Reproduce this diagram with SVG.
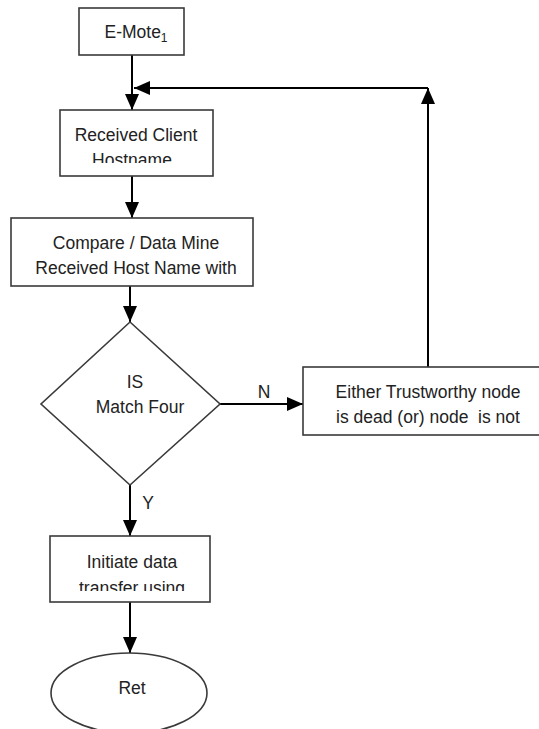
<svg xmlns="http://www.w3.org/2000/svg" width="539" height="729" viewBox="0 0 539 729">
<style>
.box{fill:#fff;stroke:#3a3a3a;stroke-width:1.6}
.t{font-family:"Liberation Sans",Arial,sans-serif;font-size:17.5px;fill:#222;text-anchor:middle;white-space:pre}
.c{stroke:#000;stroke-width:2;fill:none}
</style>
<defs>
<marker id="arr" viewBox="0 0 16 14" refX="16" refY="7" markerWidth="16" markerHeight="14" markerUnits="userSpaceOnUse" orient="auto">
<path d="M0,0 L16,7 L0,14 z" fill="#000"/>
</marker>
<clipPath id="clipA"><rect x="60" y="110" width="153" height="53"/></clipPath>
<clipPath id="clipB"><rect x="50" y="536" width="160" height="55"/></clipPath>
</defs>
<g id="connectors">
<path class="c" d="M132,55 V110" marker-end="url(#arr)"/>
<path class="c" d="M428,367 V88" marker-end="url(#arr)"/>
<path class="c" d="M428,88 H134" marker-end="url(#arr)"/>
<path class="c" d="M132,176 V218" marker-end="url(#arr)"/>
<path class="c" d="M130,286 V322" marker-end="url(#arr)"/>
<path class="c" d="M220,404 H303" marker-end="url(#arr)"/>
<path class="c" d="M130,485 V536" marker-end="url(#arr)"/>
<path class="c" d="M130,602 V653" marker-end="url(#arr)"/>
<text class="t" x="264" y="398">N</text>
<text class="t" x="148" y="509">Y</text>
</g>
<g id="emote">
<rect class="box" x="79" y="8" width="105" height="47"/>
<text class="t" x="136" y="38">E-Mote<tspan font-size="12" dy="4">1</tspan></text>
</g>
<g id="received">
<rect class="box" x="60" y="110" width="153" height="66"/>
<g clip-path="url(#clipA)">
<text class="t" x="136" y="141">Received Client</text>
<text class="t" x="132" y="166">Hostname</text>
</g>
</g>
<g id="compare">
<rect class="box" x="11" y="218" width="242" height="68"/>
<text class="t" x="136" y="249">Compare / Data Mine</text>
<text class="t" x="136" y="274">Received Host Name with</text>
</g>
<g id="decision">
<path class="box" d="M130,322 L220,404 L130,485 L41,404 Z"/>
<text class="t" x="135" y="388">IS</text>
<text class="t" x="140" y="413">Match Four</text>
</g>
<g id="either">
<rect class="box" x="303" y="367" width="250" height="68"/>
<text class="t" x="428" y="398">Either Trustworthy node</text>
<text class="t" x="428" y="423">is dead (or) node  is not</text>
</g>
<g id="initiate">
<rect class="box" x="50" y="536" width="160" height="66"/>
<g clip-path="url(#clipB)">
<text class="t" x="132" y="568">Initiate data</text>
<text class="t" x="132" y="594">transfer using</text>
</g>
</g>
<g id="ret">
<ellipse class="box" cx="129" cy="693" rx="78" ry="40"/>
<text class="t" x="132" y="694">Ret</text>
</g>
</svg>
